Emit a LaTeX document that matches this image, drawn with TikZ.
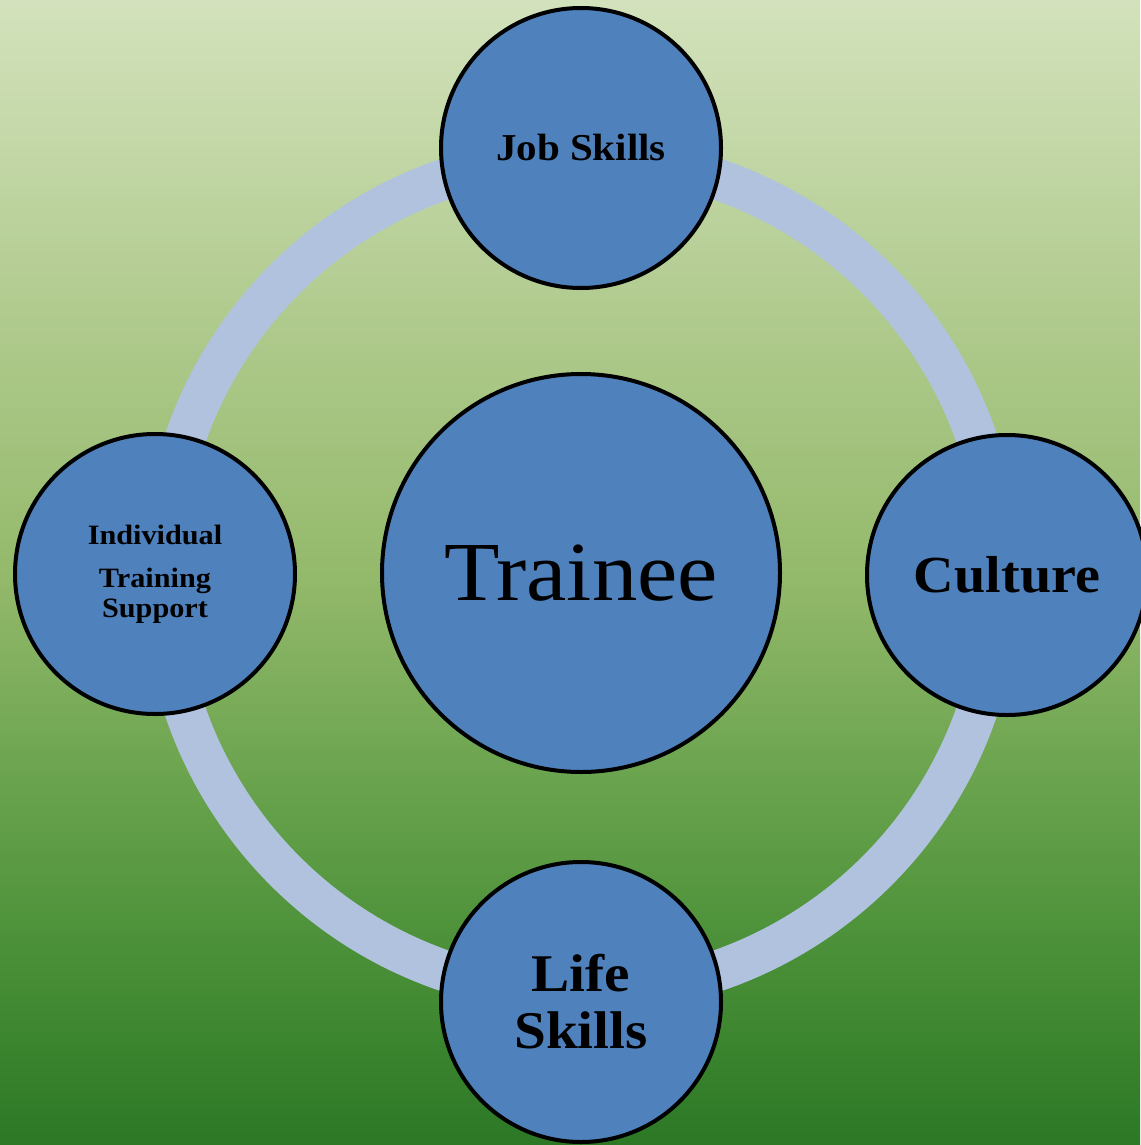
\documentclass[tikz,border=0pt]{standalone}
\usepackage{fontspec}
\setmainfont{Liberation Serif}[FakeStretch=1.08]
\definecolor{bgA}{HTML}{2C7825}
\definecolor{bgB}{HTML}{4A9038}
\definecolor{bgC}{HTML}{68A24C}
\definecolor{bgD}{HTML}{93B96A}
\definecolor{bgE}{HTML}{B1CB8F}
\definecolor{bgF}{HTML}{D3E2BC}
\definecolor{ringcol}{HTML}{B0C2DE}
\definecolor{discfill}{HTML}{4F81BD}
\pgfdeclareverticalshading{bgshade}{100bp}{color(0bp)=(bgA); color(25bp)=(bgA); color(33.5bp)=(bgB); color(40.5bp)=(bgC); color(49.7bp)=(bgD); color(61.5bp)=(bgE); color(75bp)=(bgF); color(100bp)=(bgF)}
\tikzset{
  disc/.style={circle, draw=black, line width=4pt, fill=discfill, minimum size=280pt, inner sep=0pt, align=center, text=black},
  bigdisc/.style={disc, minimum size=398pt},
  ringstyle/.style={draw=ringcol, line width=41pt}
}
\begin{document}
\begin{tikzpicture}[x=1pt,y=-1pt]
\useasboundingbox (0,0) rectangle (1140,1145);
\shade[shading=bgshade] (0,0) rectangle (1140,1145);
\coordinate (ringc) at (581,575);
\draw[ringstyle] (ringc) circle[radius=418.5pt];
\node[bigdisc, font=\fontsize{84}{94}\selectfont] (trainee) at (581,573) {Trainee};
\node[disc, font=\bfseries\fontsize{38}{42}\selectfont] (job) at (581,148) {Job Skills};
\node[disc, font=\bfseries\fontsize{52}{58}\selectfont] (culture) at (1007,575) {Culture};
\node[disc, font=\bfseries\fontsize{53}{57}\selectfont] (life) at (581,1002) {Life\\Skills};
\node[disc, font=\bfseries\fontsize{28}{30}\selectfont] (indiv) at (155,574) {Individual\\[13pt]Training\\Support};
\end{tikzpicture}
\end{document}
